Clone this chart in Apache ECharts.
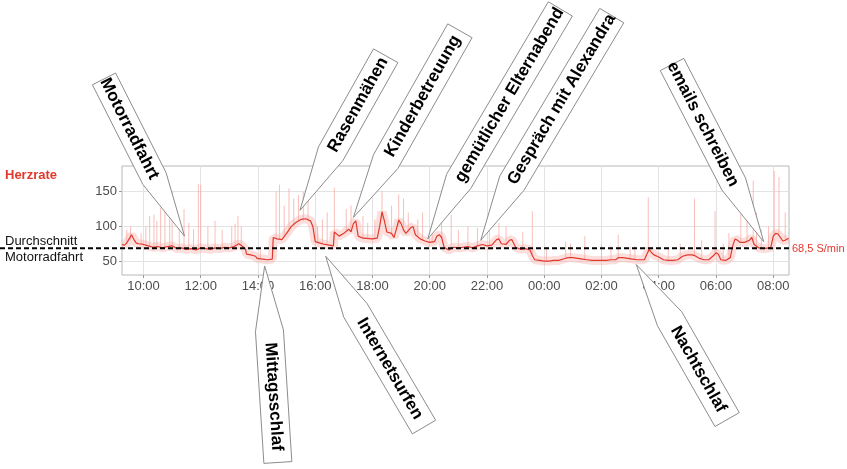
<!DOCTYPE html>
<html><head><meta charset="utf-8">
<script src="https://cdn.jsdelivr.net/npm/echarts@6/dist/echarts.min.js"></script>
<style>html,body{margin:0;padding:0;background:#fff}#c{width:847px;height:469px}</style>
</head><body><div id="c"></div>
<script>
// ---------- data ----------
const lineTimes = ['09:15','09:20','09:25','09:30','09:35','09:40','09:45','09:50','10:00','10:10','10:20','10:30','10:40','10:50','11:00','11:10','11:20','11:30','11:40','11:50','12:00','12:10','12:20','12:30','12:40','12:50','13:00','13:10','13:20','13:30','13:34','13:36','13:45','13:55','13:58','14:10','14:20','14:30','14:32','14:40','14:50','15:00','15:10','15:20','15:30','15:40','15:50','15:55','16:00','16:10','16:20','16:30','16:38','16:40','16:50','17:00','17:10','17:15','17:20','17:25','17:30','17:40','18:00','18:10','18:15','18:20','18:25','18:30','18:40','18:45','18:50','18:55','19:00','19:05','19:10','19:20','19:25','19:30','19:40','19:50','20:00','20:10','20:15','20:20','20:25','20:30','20:40','20:50','21:00','21:10','21:20','21:30','21:40','21:50','22:00','22:10','22:20','22:25','22:30','22:40','22:47','22:52','23:00','23:10','23:20','23:30','23:35','23:40','23:50','00:00','00:10','00:20','00:30','00:40','00:50','01:00','01:10','01:20','01:30','01:40','01:50','02:00','02:10','02:20','02:30','02:35','02:45','02:55','03:05','03:15','03:30','03:35','03:40','03:45','03:50','04:00','04:10','04:20','04:30','04:40','04:50','05:00','05:10','05:15','05:25','05:35','05:45','05:55','06:00','06:05','06:10','06:20','06:30','06:35','06:40','06:45','06:50','07:00','07:10','07:15','07:20','07:30','07:40','07:50','07:55','08:00','08:05','08:10','08:15','08:20','08:25','08:32'];
const lineValues = [74,73,76,82,88,81,76,75,74,72,70,71,69,71,72,68,69,67,68,66,69,68,67,69,68,70,69,71,75,70,67,60,59,57,54,53,52,53,84,82,81,90,100,106,110,111,108,100,78,76,74,73,72,92,86,90,96,92,104,108,86,83,82,83,100,121,108,92,90,84,96,109,104,95,90,98,100,88,82,79,77,78,86,88,84,70,66,70,69,70,71,69,72,74,72,73,81,82,75,74,80,81,70,67,68,66,58,52,51,50,50,51,51,53,55,55,54,53,52,51,51,51,51,52,52,55,55,54,53,52,52,60,67,62,59,56,52,51,51,52,57,59,59,58,54,52,52,58,62,60,52,51,55,72,82,80,77,77,80,84,74,69,68,69,70,86,90,89,84,79,80,83];

const spikeTimes = ['09:25','09:33','09:55','10:05','10:13','10:22','10:28','10:36','10:45','10:55','11:00','11:15','11:25','11:35','11:45','11:55','12:00','12:15','12:30','12:45','13:05','13:12','13:18','13:25','14:05','14:38','14:45','14:55','15:05','15:15','15:25','15:35','15:45','16:05','16:15','16:25','16:40','17:05','17:15','17:40','17:50','18:05','18:20','18:40','18:55','19:05','19:15','19:35','19:45','20:05','20:25','20:45','21:00','21:20','21:40','22:05','22:25','22:40','23:15','23:35','00:05','00:45','00:55','01:25','02:00','02:20','02:35','03:00','03:10','03:38','04:20','04:45','05:15','05:30','05:58','06:15','06:27','06:52','07:05','07:18','07:25','07:35','07:50','08:02','08:12','08:25'];
const spikeLow  = [76,80,75,73,70,70,70,70,70,71,72,68,68,67,68,66,68,68,68,68,69,71,72,72,53,82,82,85,95,100,108,108,110,76,75,74,80,92,92,83,82,82,110,90,100,95,92,85,80,77,84,68,69,70,72,72,80,74,67,60,50,55,55,53,51,52,53,54,53,62,51,55,58,54,60,52,53,78,77,80,73,69,69,86,89,80];
const spikeHigh = [95,100,90,100,115,117,108,127,132,112,150,98,125,105,96,161,160,100,108,95,100,104,115,100,66,150,160,130,155,140,145,150,160,100,110,120,156,125,130,115,105,110,151,130,146,140,120,110,120,105,122,117,95,100,98,95,105,100,92,122,70,78,75,86,75,72,88,70,72,142,70,75,140,80,122,75,90,152,110,166,120,95,100,180,171,120];

const xTickLabels = ['10:00','12:00','14:00','16:00','18:00','20:00','22:00','00:00','02:00','04:00','06:00','08:00'];
const yTickValues = [50, 100, 150];
const averageValue = 68.5;
const averageLabel = '68,5 S/min';
const averageCaption = ['Durchschnitt', 'Motorradfahrt'];
const yTitle = 'Herzrate';

const noteLabels = ['Motorradfahrt','Rasenmähen','Kinderbetreuung','gemütlicher Elternabend','Gespräch mit Alexandra','emails schreiben','Mittagsschlaf','Internetsurfen','Nachtschlaf'];
const noteTimes  = ['11:26','15:28','17:20','19:56','21:47','07:40','14:14','16:22','03:13'];
const noteValues = [86, 123, 113, 82, 80, 78, 43, 57, 45];

// ---------- layout (pixels, relative to each note's anchor) ----------
// near: offset of box near-end centre from tip; far: vector from near-end to far-end centre; w: box width
const noteLayout = [
  {near:[-30,-57.5], far:[-50.5,-99.7], w:26},
  {near:[30.7,-56.7], far:[55,-98], w:28},
  {near:[32.3,-55.8], far:[74.2,-130.8], w:28},
  {near:[30.8,-57.5], far:[101.7,-172.5], w:28},
  {near:[31,-57], far:[100,-167.7], w:28},
  {near:[-30,-57.7], far:[-61.7,-119.5], w:26.5},
  {near:[4.8,64.8], far:[8.4,131.7], w:28},
  {near:[29.7,54.1], far:[68.6,116.7], w:27},
  {near:[33.3,54.2], far:[57.5,100.8], w:28}
];

function toHours(s){ const p = s.split(':').map(Number); let v = p[0] + p[1]/60; if (v < 9) v += 24; return v; }
const xTickValues = xTickLabels.map(toHours);
const X_MIN = 9.25, X_MAX = 32.55, Y_MIN = 30, Y_MAX = 187;
const FONT = '"Liberation Sans", Arial, sans-serif';
const RED = '#e2392d';

const lineData = lineTimes.map((t,i)=>[toHours(t), lineValues[i]]);
const spikeData = spikeTimes.map((t,i)=>[toHours(t), spikeLow[i], spikeHigh[i]]);

const chart = echarts.init(document.getElementById('c'), null, {renderer:'canvas'});

function nearestLabel(v, vals, labels){
  let bi = 0, bd = Infinity;
  vals.forEach((x,i)=>{ const d = Math.abs(x-v); if (d < bd){bd=d; bi=i;} });
  return labels[bi];
}

chart.setOption({
  animation:false,
  backgroundColor:'#fff',
  grid:{left:122, right:58, top:166, bottom:194, show:true, borderColor:'#b8b8b8', borderWidth:1, backgroundColor:'#fff'},
  xAxis:{
    type:'value', min:X_MIN, max:X_MAX,
    axisLine:{show:false},
    axisTick:{show:true, customValues:xTickValues, length:3, lineStyle:{color:'#999'}},
    axisLabel:{customValues:xTickValues, formatter:(v)=>nearestLabel(v, xTickValues, xTickLabels), fontSize:13, color:'#4d4d4d', fontFamily:FONT, margin:5},
    splitLine:{show:true, lineStyle:{color:'#e3e3e3', width:1}}
  },
  yAxis:{
    type:'value', min:Y_MIN, max:Y_MAX,
    axisLine:{show:false},
    axisTick:{show:true, customValues:yTickValues, length:3, lineStyle:{color:'#999'}},
    axisLabel:{customValues:yTickValues, fontSize:13, color:'#4d4d4d', fontFamily:FONT, margin:5},
    splitLine:{show:true, lineStyle:{color:'#e3e3e3', width:1}}
  },
  series:[
    {
      type:'custom', data:spikeData, encode:{x:0, y:[1,2]}, z:1, silent:true,
      renderItem:(params, api)=>{
        const p1 = api.coord([api.value(0), api.value(1)]);
        const p2 = api.coord([api.value(0), api.value(2)]);
        return {type:'line', shape:{x1:p1[0], y1:p1[1], x2:p2[0], y2:p2[1]}, style:{stroke:'#f6aaa3', lineWidth:1, opacity:0.75}};
      }
    },
    {type:'line', data:lineData, showSymbol:false, silent:true, z:2, lineStyle:{width:9, color:'#f5a39b', opacity:0.35}},
    {type:'line', data:lineData, showSymbol:false, silent:true, z:3, lineStyle:{width:1.2, color:RED}}
  ]
});

// ---------- annotations ----------
const elems = [];
const avgY = chart.convertToPixel({gridIndex:0}, [X_MIN, averageValue])[1];
const plotRight = chart.convertToPixel({gridIndex:0}, [X_MAX, averageValue])[0];
const plotTop = chart.convertToPixel({gridIndex:0}, [X_MIN, Y_MAX])[1];

elems.push({type:'line', z:50, shape:{x1:0, y1:avgY, x2:plotRight, y2:avgY}, style:{stroke:'#000', lineWidth:2, lineDash:[5,3]}});
elems.push({type:'text', z:50, x:plotRight+3, y:avgY+1, style:{text:averageLabel, fill:RED, font:'11px '+FONT, textAlign:'left', textVerticalAlign:'middle', align:'left', verticalAlign:'middle'}});
elems.push({type:'text', z:50, x:5, y:avgY-7, style:{text:averageCaption[0], fill:'#111', font:'13px '+FONT, textAlign:'left', textVerticalAlign:'middle', align:'left', verticalAlign:'middle'}});
elems.push({type:'text', z:50, x:5, y:avgY+9, style:{text:averageCaption[1], fill:'#111', font:'13px '+FONT, textAlign:'left', textVerticalAlign:'middle', align:'left', verticalAlign:'middle'}});
elems.push({type:'text', z:50, x:5, y:plotTop+9, style:{text:yTitle, fill:RED, font:'bold 13px '+FONT, textAlign:'left', textVerticalAlign:'middle', align:'left', verticalAlign:'middle'}});

noteLabels.forEach((label, i)=>{
  const L = noteLayout[i];
  const tip = chart.convertToPixel({gridIndex:0}, [toHours(noteTimes[i]), noteValues[i]]);
  const nc = [tip[0]+L.near[0], tip[1]+L.near[1]];
  const len = Math.hypot(L.far[0], L.far[1]);
  const u = [L.far[0]/len, L.far[1]/len];
  const n = [-u[1]*L.w/2, u[0]*L.w/2];
  const fc = [nc[0]+L.far[0], nc[1]+L.far[1]];
  const pts = [
    tip,
    [nc[0]+n[0], nc[1]+n[1]],
    [fc[0]+n[0], fc[1]+n[1]],
    [fc[0]-n[0], fc[1]-n[1]],
    [nc[0]-n[0], nc[1]-n[1]]
  ];
  elems.push({type:'polygon', z:60, shape:{points:pts}, style:{fill:'#fff', stroke:'#8c8c8c', lineWidth:1}});
  let d = u[0] >= 0 ? u : [-u[0], -u[1]];
  const rot = -Math.atan2(d[1], d[0]);
  const c = [(nc[0]+fc[0])/2, (nc[1]+fc[1])/2];
  elems.push({type:'text', z:61, x:c[0], y:c[1], rotation:rot, style:{text:label, fill:'#000', font:'bold 17px '+FONT, textAlign:'center', textVerticalAlign:'middle', align:'center', verticalAlign:'middle'}});
});

chart.setOption({graphic:{elements:elems}});
</script></body></html>
